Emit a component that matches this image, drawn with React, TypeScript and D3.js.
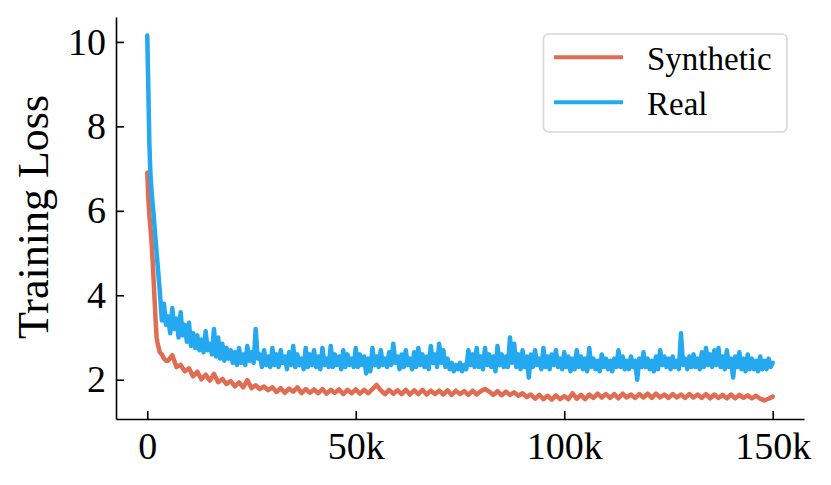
// App.tsx
import { useEffect, useRef } from 'react';
import * as d3 from 'd3';

// Training steps for the dense early part of the run
const earlySteps = [0, 250, 500, 750, 1000, 1250, 1500, 1750, 2000, 2250, 2500, 3000, 3500, 4000, 4500];
const earlySynthetic = [6.9, 6.3, 5.9, 5.6, 5.3, 4.9, 4.4, 3.9, 3.4, 3.0, 2.85, 2.65, 2.6, 2.5, 2.45];
const earlyReal = [10.15, 8.9, 7.6, 6.9, 6.5, 6.2, 5.95, 5.6, 5.3, 5.0, 4.7, 4.1, 3.4, 3.8, 3.3];

// Synthetic: logged every 1k steps from 5k to 150k
const syntheticStart = 5000;
const syntheticEvery = 1000;
const synthetic = [
  2.45, 2.58, 2.3, 2.35, 2.2,
  2.27, 2.08, 2.19, 2.01, 2.12, 1.98, 2.14, 1.94, 2.02, 1.9,
  1.97, 1.84, 1.94, 1.82, 1.99, 1.8, 1.87, 1.78, 1.84, 1.75,
  1.82, 1.71, 1.8, 1.69, 1.79, 1.72, 1.82, 1.68, 1.78, 1.69,
  1.77, 1.68, 1.78, 1.67, 1.76, 1.69, 1.77, 1.66, 1.76, 1.68,
  1.77, 1.67, 1.76, 1.68, 1.78, 1.88, 1.75, 1.66, 1.76, 1.67,
  1.75, 1.66, 1.76, 1.65, 1.75, 1.66, 1.76, 1.65, 1.74, 1.66,
  1.74, 1.65, 1.75, 1.64, 1.74, 1.66, 1.73, 1.64, 1.74, 1.65,
  1.73, 1.78, 1.72, 1.64, 1.73, 1.63, 1.72, 1.64, 1.7, 1.62,
  1.68, 1.59, 1.65, 1.55, 1.64, 1.54, 1.62, 1.53, 1.63, 1.54,
  1.61, 1.54, 1.68, 1.55, 1.64, 1.54, 1.65, 1.57, 1.67, 1.58,
  1.66, 1.57, 1.66, 1.56, 1.67, 1.58, 1.65, 1.57, 1.66, 1.58,
  1.67, 1.57, 1.67, 1.58, 1.65, 1.57, 1.66, 1.58, 1.65, 1.57,
  1.66, 1.58, 1.65, 1.57, 1.66, 1.56, 1.65, 1.57, 1.64, 1.56,
  1.65, 1.56, 1.64, 1.57, 1.63, 1.56, 1.62, 1.55, 1.51, 1.55, 1.6,
];

// Real: logged every 500 steps from 5k to 150k (one row = 5k steps)
const realStart = 5000;
const realEvery = 500;
const real = [
  3.5, 3.1, 3.7, 3.2, 3.45, 3.0, 3.6, 3.05, 3.3, 2.9,
  3.35, 2.8, 3.1, 2.75, 3.05, 2.7, 2.95, 2.65, 3.15, 2.7,
  2.85, 2.6, 3.2, 2.55, 3.0, 2.5, 2.85, 2.45, 2.75, 2.5,
  2.7, 2.4, 2.65, 2.35, 2.75, 2.4, 2.6, 2.35, 2.8, 2.45,
  2.65, 2.4, 3.2, 2.5, 2.6, 2.3, 2.7, 2.35, 2.55, 2.3,
  2.75, 2.35, 2.6, 2.3, 2.7, 2.4, 2.55, 2.25, 2.65, 2.35,
  2.8, 2.3, 2.6, 2.35, 2.5, 2.25, 2.75, 2.3, 2.6, 2.35,
  2.7, 2.3, 2.55, 2.25, 2.75, 2.35, 2.5, 2.3, 2.8, 2.3,
  2.6, 2.35, 2.55, 2.25, 2.7, 2.3, 2.6, 2.35, 2.5, 2.3,
  2.75, 2.3, 2.6, 2.35, 2.55, 2.15, 2.5, 2.2, 2.75, 2.35,
  2.55, 2.3, 2.7, 2.35, 2.5, 2.3, 2.65, 2.35, 2.85, 2.4,
  2.55, 2.25, 2.6, 2.3, 2.7, 2.35, 2.5, 2.25, 2.65, 2.3,
  2.75, 2.35, 2.6, 2.3, 2.55, 2.25, 2.8, 2.4, 2.6, 2.3,
  2.85, 2.4, 2.7, 2.3, 2.5, 2.25, 2.4, 2.2, 2.35, 2.25,
  2.4, 2.2, 2.35, 2.25, 2.7, 2.35, 2.6, 2.3, 2.75, 2.3,
  2.55, 2.25, 2.75, 2.35, 2.6, 2.3, 2.55, 2.2, 2.8, 2.35,
  2.6, 2.3, 2.55, 2.3, 3.0, 2.4, 2.85, 2.3, 2.6, 2.25,
  2.7, 2.3, 2.55, 2.05, 2.6, 2.3, 2.7, 2.35, 2.5, 2.25,
  2.75, 2.3, 2.55, 2.25, 2.6, 2.35, 2.7, 2.3, 2.5, 2.25,
  2.65, 2.3, 2.55, 2.2, 2.5, 2.25, 2.7, 2.3, 2.55, 2.25,
  2.5, 2.2, 2.75, 2.3, 2.5, 2.25, 2.45, 2.2, 2.6, 2.3,
  2.5, 2.25, 2.45, 2.2, 2.5, 2.3, 2.7, 2.3, 2.55, 2.25,
  2.45, 2.25, 2.55, 2.3, 2.45, 2.0, 2.5, 2.3, 2.65, 2.3,
  2.5, 2.25, 2.45, 2.2, 2.55, 2.25, 2.7, 2.35, 2.55, 2.3,
  2.5, 2.25, 2.55, 2.3, 2.45, 2.25, 3.1, 2.35, 2.5, 2.25,
  2.55, 2.3, 2.6, 2.3, 2.5, 2.25, 2.65, 2.3, 2.75, 2.35,
  2.6, 2.3, 2.7, 2.35, 2.75, 2.3, 2.55, 2.25, 2.7, 2.3,
  2.5, 2.05, 2.55, 2.3, 2.65, 2.25, 2.5, 2.2, 2.6, 2.25,
  2.5, 2.25, 2.45, 2.2, 2.55, 2.25, 2.45, 2.25, 2.5, 2.3,
  2.4,
];

const xTicks = [0, 50000, 100000, 150000];
const xTickLabels = ['0', '50k', '100k', '150k'];
const yTicks = [2, 4, 6, 8, 10];
const seriesNames = ['Synthetic', 'Real'];
const seriesColors = ['#e06c52', '#24a8f0'];

type Pt = { step: number; loss: number };

const toPoints = (early: number[], later: number[], start: number, every: number): Pt[] => [
  ...early.map((loss, i) => ({ step: earlySteps[i], loss })),
  ...later.map((loss, i) => ({ step: start + i * every, loss })),
];

const App = () => {
  const ref = useRef<SVGSVGElement>(null);

  useEffect(() => {
    const W = 831;
    const H = 485;
    const margin = { top: 17, right: 27, bottom: 66, left: 116 };
    const width = W - margin.left - margin.right;
    const height = H - margin.top - margin.bottom;
    const font = "'Liberation Serif', 'DejaVu Serif', serif";

    const root = d3.select(ref.current);
    root.selectAll('*').remove();
    const svg = root.append('g').attr('transform', `translate(${margin.left},${margin.top})`);

    const x = d3.scaleLinear().domain([-7500, 157500]).range([0, width]);
    const y = d3.scaleLinear().domain([1.07, 10.59]).range([height, 0]);

    const line = d3.line<Pt>()
      .x((d) => x(d.step))
      .y((d) => y(d.loss));

    const series = [
      toPoints(earlySynthetic, synthetic, syntheticStart, syntheticEvery),
      toPoints(earlyReal, real, realStart, realEvery),
    ];

    series.forEach((pts, i) => {
      svg.append('path')
        .datum(pts)
        .attr('d', line)
        .attr('fill', 'none')
        .attr('stroke', seriesColors[i])
        .attr('stroke-width', 4.5)
        .attr('stroke-linejoin', 'round')
        .attr('stroke-linecap', 'round');
    });

    // axes, ticks pointing inward
    const xAxis = svg.append('g')
      .attr('transform', `translate(0,${height})`)
      .call(d3.axisBottom(x).tickValues(xTicks).tickFormat((_, i) => xTickLabels[i]).tickSizeInner(-8).tickSizeOuter(0).tickPadding(13));
    const yAxis = svg.append('g')
      .call(d3.axisLeft(y).tickValues(yTicks).tickFormat(d3.format('d')).tickSizeInner(-8).tickSizeOuter(0).tickPadding(10));

    [xAxis, yAxis].forEach((g) => {
      g.selectAll('path.domain').attr('stroke', '#000').attr('stroke-width', 1.6);
      g.selectAll('.tick line').attr('stroke', '#000').attr('stroke-width', 1.6);
      g.selectAll('.tick text').attr('fill', '#000').style('font-family', font).style('font-size', '38px');
    });

    // y axis label
    root.append('text')
      .attr('transform', 'translate(48,217) rotate(-90)')
      .attr('text-anchor', 'middle')
      .style('font-family', font)
      .style('font-size', '44px')
      .text('Training Loss');

    // legend
    const legend = root.append('g');
    legend.append('rect')
      .attr('x', 543.5).attr('y', 34).attr('width', 243.5).attr('height', 98)
      .attr('rx', 5)
      .attr('fill', 'white').attr('fill-opacity', 0.8)
      .attr('stroke', '#d6d6d6').attr('stroke-width', 1.6);
    seriesNames.forEach((name, i) => {
      const ly = 57.3 + i * 45;
      legend.append('line')
        .attr('x1', 554).attr('x2', 623).attr('y1', ly).attr('y2', ly)
        .attr('stroke', seriesColors[i]).attr('stroke-width', 4);
      legend.append('text')
        .attr('x', 647).attr('y', ly + 12.5)
        .style('font-family', font)
        .style('font-size', '33px')
        .text(name);
    });
  }, []);

  return (
    <svg ref={ref} width={831} height={485} style={{ position: 'absolute', left: 0, top: 0, background: 'white' }} />
  );
};

export default App;
